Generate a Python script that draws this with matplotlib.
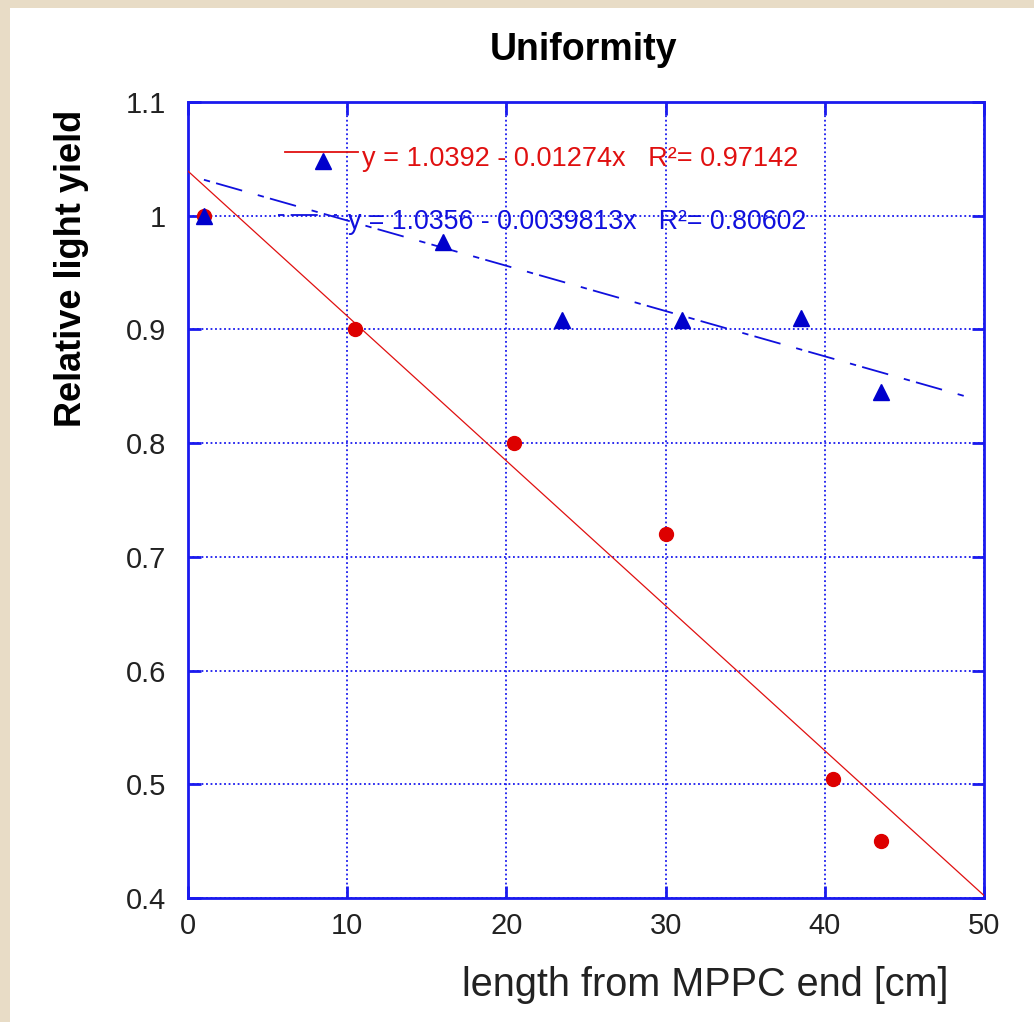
import matplotlib
matplotlib.use("Agg")
import matplotlib.pyplot as plt
import numpy as np
from matplotlib.lines import Line2D
from matplotlib.patches import Rectangle

plt.rcParams['font.family'] = ['Liberation Sans', 'DejaVu Sans']

# ---- data ----
red_x = [1, 10.5, 20.5, 30, 40.5, 43.5]
red_y = [1.0, 0.9, 0.8, 0.72, 0.505, 0.45]
blue_x = [1, 8.5, 16, 23.5, 31, 38.5, 43.5]
blue_y = [1.0, 1.048, 0.977, 0.908, 0.908, 0.91, 0.845]

red_fit = (1.0392, 0.01274, 0.97142)      # intercept, slope(neg), R^2
blue_fit = (1.0356, 0.0039813, 0.80602)
red_fit_range = [0, 50]
blue_fit_range = [1, 49]

x_ticks = [0, 10, 20, 30, 40, 50]
y_ticks = [0.4, 0.5, 0.6, 0.7, 0.8, 0.9, 1.0, 1.1]
y_tick_labels = ["0.4", "0.5", "0.6", "0.7", "0.8", "0.9", "1", "1.1"]

W, H = 1034, 1022
fig = plt.figure(figsize=(W / 100, H / 100), dpi=100)
fig.patch.set_facecolor('#e8dcc6')
fig.patches.append(Rectangle((10 / W, 0), 1, 1 - 8 / H, transform=fig.transFigure,
                             facecolor='white', edgecolor='none', zorder=-10))

L, R, T, B = 188, 984, 102, 898
ax = fig.add_axes([L / W, 1 - B / H, (R - L) / W, (B - T) / H])
ax.set_facecolor('white')

BLUE = '#1a1aee'
DASH = (3.5, 3.5, 15, 9)
ax.set_xlim(0, 50)
ax.set_ylim(0.4, 1.1)
ax.set_xticks(x_ticks)
ax.set_yticks(y_ticks)
ax.set_yticklabels(y_tick_labels)
for s in ax.spines.values():
    s.set_color(BLUE)
    s.set_linewidth(2)
ax.tick_params(direction='in', length=9, width=2, color=BLUE, top=True, right=True,
               labelsize=21, labelcolor='#222222')
ax.tick_params(axis='y', pad=16)
ax.tick_params(axis='x', pad=10)
ax.grid(True, color=BLUE, linestyle=(0, (1, 1.5)), linewidth=1.3)
ax.set_axisbelow(True)

# fit lines
xr = np.array(red_fit_range, dtype=float)
ax.plot(xr, red_fit[0] - red_fit[1] * xr, color='#e01010', linewidth=0.9, zorder=3)
xb = np.array(blue_fit_range, dtype=float)
ax.plot(xb, blue_fit[0] - blue_fit[1] * xb, color='#1010dd', linewidth=1.3,
        dashes=DASH, zorder=3)

# data points
ax.plot(red_x, red_y, 'o', color='#dd0000', markersize=10, zorder=4, clip_on=False)
ax.plot(blue_x, blue_y, '^', color='#0000cc', markersize=11, zorder=5, clip_on=False)

# legend-like annotations
def fx(px):
    return (px - L) / (R - L)

def fy(py):
    return (B - py) / (B - T)

ax.add_line(Line2D([fx(285), fx(358)], [fy(152), fy(152)], transform=ax.transAxes,
                   color='#e01010', linewidth=1.3, zorder=6))
ax.text(fx(362), fy(159), f"y = {red_fit[0]:.4f} - {red_fit[1]:.5f}x   R\u00b2= {red_fit[2]:.5f}",
        transform=ax.transAxes, color='#e01010', fontsize=19.5, va='center', ha='left', zorder=6)
ax.add_line(Line2D([fx(278), fx(337)], [fy(215), fy(215)], transform=ax.transAxes,
                   color='#1010dd', linewidth=1.3, dashes=DASH, zorder=6))
ax.text(fx(348), fy(222), f"y = {blue_fit[0]:.4f} - {blue_fit[1]:.7f}x   R\u00b2= {blue_fit[2]:.5f}",
        transform=ax.transAxes, color='#1010dd', fontsize=19.3, va='center', ha='left', zorder=6)

# titles / labels
fig.text(584 / W, 1 - 50 / H, "Uniformity", fontsize=27, fontweight='bold',
         ha='center', va='center', color='black')
fig.text(72 / W, 1 - 268 / H, "Relative light yield", fontsize=26, fontweight='bold',
         rotation=90, ha='center', va='center', color='black')
fig.text(705 / W, 1 - 985 / H, "length from MPPC end [cm]", fontsize=28.5,
         ha='center', va='center', color='#222222')

fig.savefig("out.png", dpi=100)
